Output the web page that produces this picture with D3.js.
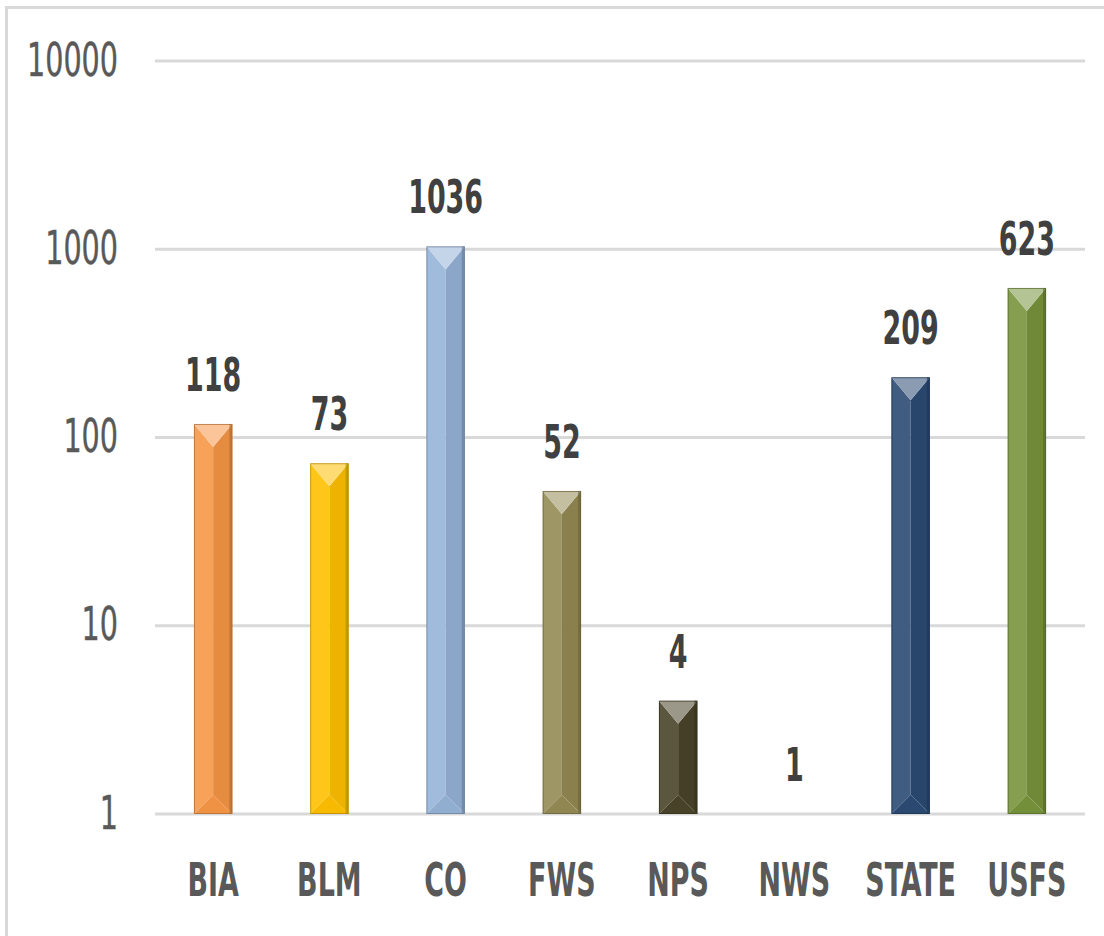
<!DOCTYPE html>
<html>
<head>
<meta charset="utf-8">
<script src="https://cdn.jsdelivr.net/npm/d3@7"></script>
<style>
  html, body { margin: 0; padding: 0; background: #ffffff; }
  svg { display: block; }
  text { font-family: "DejaVu Sans Condensed", "DejaVu Sans", sans-serif; }
</style>
</head>
<body>
<svg id="chart" width="1104" height="936"></svg>
<script>
// ---- data ----
const categories = ["BIA", "BLM", "CO", "FWS", "NPS", "NWS", "STATE", "USFS"];
const values = [118, 73, 1036, 52, 4, 1, 209, 623];
const yTicks = [1, 10, 100, 1000, 10000];
const barColors = ["#F79646", "#FFC000", "#95B3D7", "#948A54", "#494429", "#7F7F7F", "#2B4A73", "#77933C"];

const svg = d3.select("#chart");
const W = 1104, H = 936;
const FS = 46;

function measure(str, weight) {
  const t = svg.append("text").attr("font-size", FS).attr("font-weight", weight).text(str);
  const w = t.node().getComputedTextLength();
  t.remove();
  return w;
}
const sxReg = 91 / measure("10000", "normal");
const sxBold = 75 / measure("1036", "bold");

// frame
svg.append("rect").attr("x", 6.5).attr("y", 7.5).attr("width", W + 20).attr("height", H + 20)
  .attr("fill", "#ffffff").attr("stroke", "#d9d9d9").attr("stroke-width", 3);

const x = d3.scaleBand().domain(categories).range([155, 1085]).paddingInner(0.67).paddingOuter(0.335);
const y = d3.scaleLog().domain([1, 10000]).range([814, 61]);

// gridlines
svg.append("g").selectAll("line").data(yTicks).join("line")
  .attr("x1", 155).attr("x2", 1085)
  .attr("y1", d => y(d)).attr("y2", d => y(d))
  .attr("stroke", "#d9d9d9").attr("stroke-width", 3);

// y axis labels
const yAxis = d3.axisLeft(y).tickValues(yTicks).tickFormat(d3.format("d")).tickSize(0).tickPadding(0);
const gy = svg.append("g").attr("transform", "translate(118,0)").call(yAxis);
gy.select(".domain").remove();
gy.selectAll("text")
  .attr("x", 0).attr("y", -2).attr("dy", "0.35em")
  .attr("transform", `scale(${sxReg},1)`)
  .attr("font-size", FS).attr("fill", "#595959")
  .attr("stroke", "#595959").attr("stroke-width", 0.4)
  .style("font-family", "'DejaVu Sans Condensed', 'DejaVu Sans', sans-serif");

// bars with bevel facets
function shade(c, k) {
  const col = d3.color(c);
  return k >= 0 ? d3.interpolateRgb(col, "#ffffff")(k) : d3.interpolateRgb(col, "#000000")(-k);
}
const bw = x.bandwidth();
const gb = svg.append("g");
categories.forEach((cat, i) => {
  const v = values[i];
  const x0 = x(cat), x1 = x0 + bw, cx = x0 + bw / 2;
  const yt = y(v), yb = y(1);
  const h = yb - yt;
  if (h <= 0.5) return;
  const d = Math.min(bw * 0.6, h / 2);
  const dbot = Math.min(bw * 0.5, h / 2);
  const c = barColors[i];
  const g = gb.append("g");
  g.append("polygon").attr("points", [[x0, yt], [cx, yt + d], [cx, yb - dbot], [x0, yb]].join(" "))
    .attr("fill", shade(c, 0.1));
  g.append("polygon").attr("points", [[x1, yt], [cx, yt + d], [cx, yb - dbot], [x1, yb]].join(" "))
    .attr("fill", shade(c, -0.07));
  g.append("polygon").attr("points", [[x0, yt], [x1, yt], [cx, yt + d]].join(" "))
    .attr("fill", shade(c, 0.45));
  g.append("polygon").attr("points", [[x0, yb], [x1, yb], [cx, yb - dbot]].join(" "))
    .attr("fill", shade(c, -0.03));
  g.append("rect").attr("x", x1 - 3).attr("y", yt).attr("width", 3).attr("height", h)
    .attr("fill", shade(c, -0.3)).attr("opacity", 0.6);
  g.append("rect").attr("x", x0 + 0.5).attr("y", yt + 0.5).attr("width", bw - 1).attr("height", h - 1)
    .attr("fill", "none").attr("stroke", shade(c, -0.3)).attr("stroke-width", 1).attr("stroke-opacity", 0.7);
});

// value labels
svg.append("g").selectAll("text").data(categories).join("text")
  .attr("transform", (d, i) => `translate(${x(d) + bw / 2},${y(values[i]) - 33}) scale(${sxBold},1)`)
  .attr("text-anchor", "middle")
  .attr("font-size", FS).attr("font-weight", "bold").attr("fill", "#404040")
  .text((d, i) => values[i]);

// category axis
const xAxis = d3.axisBottom(x).tickSize(0).tickPadding(0);
const gx = svg.append("g").call(xAxis);
gx.select(".domain").remove();
gx.selectAll(".tick").attr("transform", d => `translate(${x(d) + bw / 2},896)`);
gx.selectAll("text")
  .attr("y", 0).attr("dy", 0)
  .attr("transform", `scale(${sxBold},1)`)
  .attr("font-size", FS).attr("font-weight", "bold").attr("fill", "#595959")
  .style("font-family", "'DejaVu Sans Condensed', 'DejaVu Sans', sans-serif");
</script>
</body>
</html>
